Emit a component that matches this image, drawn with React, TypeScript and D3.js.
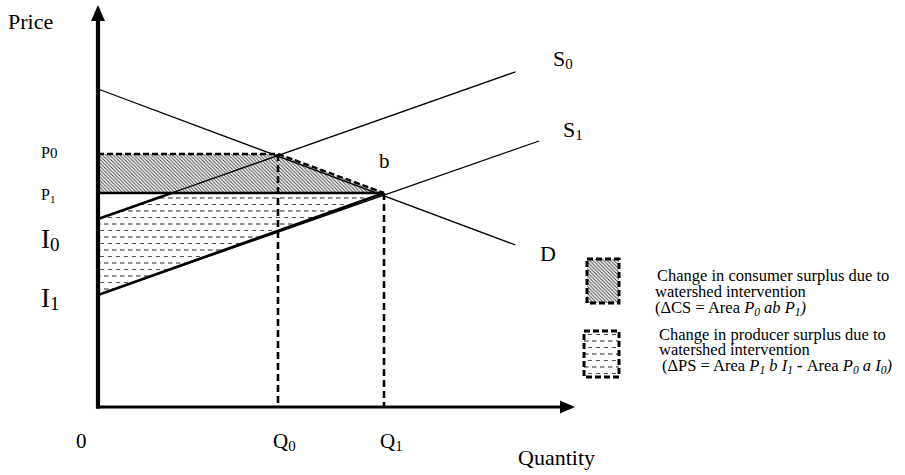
import React from "react";
import * as d3 from "d3";

const W = 905;
const H = 475;

// economic model values (quantity, price units)
const demandCurve = [
  { q: 0, p: 79.5 },
  { q: 83.5, p: 40.5 },
];
const supplyCurve0 = [
  { q: 0, p: 47 },
  { q: 83.5, p: 83.8 },
];
const supplyCurve1 = [
  { q: 0, p: 28 },
  { q: 88.2, p: 66.5 },
];
const equilibriumQuantities = [36, 57.2]; // Q0, Q1
const equilibriumPrices = [63.25, 53.5]; // P0, P1
const supplyIntercepts = [47, 28]; // I0, I1

const quantityTickLabels = [
  { main: "0", sub: "", q: 0, dx: -22 },
  { main: "Q", sub: "0", q: 36, dx: -5 },
  { main: "Q", sub: "1", q: 57.2, dx: -4 },
];
const priceTickLabels = [
  { main: "P", sub: "0", p: 63.25, size: 16, subSize: 15, shift: 0, dy: 4 },
  { main: "P", sub: "1", p: 53.5, size: 16, subSize: 11, shift: 3, dy: 7 },
];
const interceptTickLabels = [
  { main: "I", sub: "0", p: 47, dy: 29 },
  { main: "I", sub: "1", p: 28, dy: 12 },
];
const curveLabels = [
  { main: "S", sub: "0", x: 553, y: 66 },
  { main: "S", sub: "1", x: 563, y: 137 },
  { main: "D", sub: "", x: 540, y: 261 },
];

const xScale = d3.scaleLinear().domain([0, 100]).range([98, 598]);
const yScale = d3.scaleLinear().domain([0, 100]).range([407, 7]);

const FONT = "'Liberation Serif', 'Times New Roman', serif";

function lineAt(curve: { q: number; p: number }[], q: number) {
  const [a, b] = curve;
  return a.p + ((b.p - a.p) * (q - a.q)) / (b.q - a.q);
}
function qAtPrice(curve: { q: number; p: number }[], p: number) {
  const [a, b] = curve;
  return a.q + ((p - a.p) * (b.q - a.q)) / (b.p - a.p);
}

export default function App() {
  const line = d3
    .line<{ q: number; p: number }>()
    .x((d) => xScale(d.q))
    .y((d) => yScale(d.p));

  const [Q0, Q1] = equilibriumQuantities;
  const [P0, P1] = equilibriumPrices;
  const [I0, I1] = supplyIntercepts;
  const qCross = qAtPrice(supplyCurve0, P1);

  const csArea = [
    { q: 0, p: P0 },
    { q: Q0, p: P0 },
    { q: Q1, p: P1 },
    { q: 0, p: P1 },
  ];
  const psArea = [
    { q: 0, p: I0 },
    { q: qCross, p: P1 },
    { q: Q1, p: P1 },
    { q: 0, p: I1 },
  ];

  const x0 = xScale(0);
  const y0 = yScale(0);
  const xTip = xScale(95.4);
  const yTip = yScale(100.5);

  return (
    <svg
      width={W}
      height={H}
      style={{ position: "absolute", left: 0, top: 0, background: "#fff" }}
      fontFamily={FONT}
    >
      <defs>
        <pattern id="hatch" patternUnits="userSpaceOnUse" width="3.5" height="3.5">
          <rect width="3.5" height="3.5" fill="#fff" />
          <path d="M-1,-1 L4.5,4.5 M-1,2.5 L1,4.5 M2.5,-1 L4.5,1" stroke="#444" strokeWidth="1" />
        </pattern>
        <pattern id="dashes" patternUnits="userSpaceOnUse" width="8" height="13">
          <rect width="8" height="13" fill="#fff" />
          <line x1="0" y1="3" x2="4.5" y2="3" stroke="#222" strokeWidth="1" />
          <line x1="4" y1="9.5" x2="8" y2="9.5" stroke="#555" strokeWidth="1" />
        </pattern>
      </defs>

      {/* surplus areas */}
      <path d={line(csArea)! + "Z"} fill="url(#hatch)" />
      <path d={line(psArea)! + "Z"} fill="url(#dashes)" />

      {/* curves */}
      <path d={line(demandCurve)!} stroke="#000" strokeWidth={1.3} fill="none" />
      <path d={line(supplyCurve0)!} stroke="#000" strokeWidth={1.3} fill="none" />
      <path d={line(supplyCurve1)!} stroke="#000" strokeWidth={1.3} fill="none" />

      {/* bold boundaries */}
      <path
        d={line([{ q: 0, p: I0 }, { q: qCross, p: lineAt(supplyCurve0, qCross) }])!}
        stroke="#000"
        strokeWidth={2.4}
        fill="none"
      />
      <path d={line([{ q: 0, p: I1 }, { q: Q1, p: P1 }])!} stroke="#000" strokeWidth={2.6} fill="none" />
      <path d={line([{ q: 0, p: P1 }, { q: Q1, p: P1 }])!} stroke="#000" strokeWidth={2.6} fill="none" />
      <path
        d={line([{ q: 0, p: P0 }, { q: Q0, p: P0 }])!}
        stroke="#000"
        strokeWidth={2.4}
        strokeDasharray="6 3"
        fill="none"
      />
      <path
        d={line([{ q: Q0, p: P0 }, { q: Q1, p: P1 }])!}
        stroke="#000"
        strokeWidth={2.4}
        strokeDasharray="6 3"
        fill="none"
      />
      <path
        d={line([{ q: Q0, p: P0 }, { q: Q0, p: 0 }])!}
        stroke="#000"
        strokeWidth={2.6}
        strokeDasharray="7 4"
        fill="none"
      />
      <path
        d={line([{ q: Q1, p: P1 }, { q: Q1, p: 0 }])!}
        stroke="#000"
        strokeWidth={2.6}
        strokeDasharray="7 4"
        fill="none"
      />

      {/* axes */}
      <line x1={x0} y1={y0 + 1.5} x2={x0} y2={yTip + 14} stroke="#000" strokeWidth={4.2} />
      <polygon points={`${x0},${yTip} ${x0 - 7},${yTip + 16} ${x0 + 7},${yTip + 16}`} fill="#000" />
      <line x1={x0 - 2} y1={y0} x2={xTip - 13} y2={y0} stroke="#000" strokeWidth={3} />
      <polygon points={`${xTip},${y0} ${xTip - 15},${y0 - 6.5} ${xTip - 15},${y0 + 6.5}`} fill="#000" />

      {/* axis titles */}
      <text x={8} y={29} fontSize={22}>Price</text>
      <text x={518} y={465} fontSize={22}>Quantity</text>

      {/* quantity labels */}
      {quantityTickLabels.map((t, i) => (
        <text key={i} x={xScale(t.q) + t.dx} y={448} fontSize={21}>
          {t.main}
          {t.sub && (
            <tspan fontSize={15} dy={3}>
              {t.sub}
            </tspan>
          )}
        </text>
      ))}

      {/* price labels */}
      {priceTickLabels.map((t, i) => (
        <text key={i} x={41} y={yScale(t.p) + t.dy} fontSize={t.size}>
          {t.main}
          <tspan fontSize={t.subSize} dy={t.shift}>
            {t.sub}
          </tspan>
        </text>
      ))}
      {interceptTickLabels.map((t, i) => (
        <text key={i} x={41} y={yScale(t.p) + t.dy} fontSize={27}>
          {t.main}
          <tspan fontSize={19} dy={3}>
            {t.sub}
          </tspan>
        </text>
      ))}

      {/* curve labels */}
      {curveLabels.map((t, i) => (
        <text key={i} x={t.x} y={t.y} fontSize={22}>
          {t.main}
          {t.sub && (
            <tspan fontSize={15} dy={3}>
              {t.sub}
            </tspan>
          )}
        </text>
      ))}
      <text x={379} y={168} fontSize={21}>b</text>

      {/* legend */}
      <rect x={587} y={259} width={32} height={44} fill="url(#hatch)" stroke="#000" strokeWidth={3} strokeDasharray="6 3" />
      <rect x={584} y={331} width={35} height={46} fill="url(#dashes)" stroke="#000" strokeWidth={3} strokeDasharray="6 3" />

      <g fontSize={16.5}>
        <text x={657} y={281}>Change in consumer surplus due to</text>
        <text x={655} y={297}>watershed intervention</text>
        <text x={655} y={313}>
          (ΔCS = Area{" "}
          <tspan fontStyle="italic">P</tspan>
          <tspan fontStyle="italic" fontSize={11.5} dy={3}>0</tspan>
          <tspan fontStyle="italic" dy={-3}> ab P</tspan>
          <tspan fontStyle="italic" fontSize={11.5} dy={3}>1</tspan>
          <tspan fontStyle="italic" dy={-3}>)</tspan>
        </text>
        <text x={659} y={340}>Change in producer surplus due to</text>
        <text x={659} y={355}>watershed intervention</text>
        <text x={662} y={371}>
          (ΔPS = Area{" "}
          <tspan fontStyle="italic">P</tspan>
          <tspan fontStyle="italic" fontSize={11.5} dy={3}>1</tspan>
          <tspan fontStyle="italic" dy={-3}> b I</tspan>
          <tspan fontStyle="italic" fontSize={11.5} dy={3}>1</tspan>
          <tspan fontWeight="bold" dy={-3}> - </tspan>
          <tspan>Area </tspan>
          <tspan fontStyle="italic">P</tspan>
          <tspan fontStyle="italic" fontSize={11.5} dy={3}>0</tspan>
          <tspan fontStyle="italic" dy={-3}> a I</tspan>
          <tspan fontStyle="italic" fontSize={11.5} dy={3}>0</tspan>
          <tspan fontStyle="italic" dy={-3}>)</tspan>
        </text>
      </g>
    </svg>
  );
}
